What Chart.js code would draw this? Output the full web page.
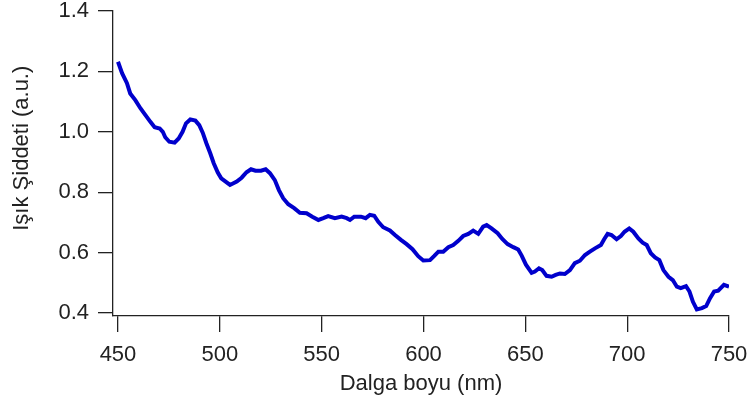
<!DOCTYPE html>
<html lang="tr">
<head>
  <meta charset="utf-8"/>
  <title>Işık Şiddeti - Dalga boyu</title>
  <script src="https://cdn.jsdelivr.net/npm/chart.js@4.4.1/dist/chart.umd.min.js"></script>
  <style>
    html, body { margin: 0; padding: 0; background: #fff; }
    #wrap { width: 752px; height: 404px; }
  </style>
</head>
<body>
  <div id="wrap"><canvas id="spektrum"></canvas></div>
  <script>
    // spektrum verisi (nm, a.u.)
    var dalgaBoyu = [
      450, 452, 454.4, 456, 458.5, 461, 463.4, 465.9, 468, 470.5,
      472, 473.2, 475.2, 477.8, 479.8, 481.7, 483.4, 485.5, 488, 489.9,
      491.6, 493.4, 495.3, 497, 499, 500.7, 505, 508.3, 510.7, 513.1,
      515.3, 517.5, 520.2, 522.5, 524.6, 527, 529, 531.1, 533.6, 536.5,
      539.3, 542.6, 545.4, 548.4, 550.8, 553.2, 556.5, 559.8, 562.3, 563.9,
      566, 569.3, 571.6, 573.7, 575.8, 577.8, 580.2, 583.5, 586, 588.9,
      591.7, 594.6, 597.4, 599.9, 603.2, 605.3, 607.3, 609.7, 612.2, 614.6,
      617.1, 619.5, 622, 624.4, 626.9, 629.3, 631, 633.4, 636.4, 638.7,
      641.3, 644.1, 646.5, 648.2, 650.3, 653.1, 654.7, 656.7, 658.3, 660.4,
      662.9, 664.9, 667, 669.4, 671.9, 674.3, 676.8, 679.3, 681.7, 684.2,
      687.1, 688.7, 690.4, 692.3, 694.8, 696.9, 698.7, 701, 703, 705.5,
      707.6, 709.6, 711.6, 713.7, 715.8, 717.8, 720.3, 722.4, 724.4, 726.3,
      728.9, 730.6, 732.3, 734.2, 736.7, 738.8, 740.7, 742.7, 744.7, 747.5,
      750
    ];
    var siddet = [
      1.232, 1.194, 1.161, 1.127, 1.105, 1.078, 1.056, 1.033, 1.015, 1.011,
      1.000, 0.982, 0.967, 0.964, 0.978, 1.000, 1.028, 1.041, 1.037, 1.022,
      0.997, 0.962, 0.929, 0.896, 0.865, 0.846, 0.824, 0.835, 0.848, 0.866,
      0.876, 0.871, 0.871, 0.876, 0.863, 0.840, 0.807, 0.780, 0.760, 0.747,
      0.732, 0.730, 0.719, 0.708, 0.714, 0.721, 0.714, 0.719, 0.714, 0.708,
      0.719, 0.719, 0.714, 0.725, 0.722, 0.702, 0.684, 0.673, 0.658, 0.642,
      0.628, 0.611, 0.588, 0.574, 0.575, 0.589, 0.603, 0.603, 0.618, 0.625,
      0.639, 0.655, 0.662, 0.673, 0.662, 0.686, 0.691, 0.680, 0.664, 0.645,
      0.628, 0.618, 0.610, 0.590, 0.560, 0.533, 0.537, 0.548, 0.542, 0.523,
      0.520, 0.526, 0.531, 0.529, 0.542, 0.565, 0.573, 0.592, 0.603, 0.614,
      0.625, 0.644, 0.662, 0.658, 0.644, 0.655, 0.669, 0.680, 0.669, 0.647,
      0.633, 0.625, 0.598, 0.584, 0.575, 0.542, 0.520, 0.509, 0.487, 0.482,
      0.489, 0.471, 0.437, 0.412, 0.416, 0.423, 0.449, 0.471, 0.474, 0.493,
      0.487
    ];
    var xTicks = [450, 500, 550, 600, 650, 700, 750];
    var yTicks = [0.4, 0.6, 0.8, 1.0, 1.2, 1.4];

    var noktalar = dalgaBoyu.map(function (x, i) { return { x: x, y: siddet[i] }; });

    var yazi = { family: '"Liberation Sans", Arial, sans-serif', size: 22 };
    var eksenRenk = '#222';

    new Chart(document.getElementById('spektrum'), {
      type: 'line',
      data: {
        datasets: [{
          data: noktalar,
          borderColor: '#0000cc',
          borderWidth: 4,
          pointRadius: 0,
          tension: 0,
          fill: false
        }]
      },
      options: {
        responsive: true,
        maintainAspectRatio: false,
        animation: false,
        layout: { padding: { top: 11, right: 23, left: 0, bottom: 0 } },
        plugins: { legend: { display: false }, tooltip: { enabled: false } },
        scales: {
          x: {
            type: 'linear',
            min: 447.55,
            max: 750,
            afterBuildTicks: function (s) { s.ticks = xTicks.map(function (v) { return { value: v }; }); },
            // eksen boyutunu sabitle, etiket taşmalarını yerleşime katma
            afterFit: function (s) { s.height = 88; s.paddingLeft = 0; s.paddingRight = 0; },
            grid: { display: true, drawOnChartArea: false, drawTicks: true, tickLength: 16, color: eksenRenk, lineWidth: 1.3 },
            border: { display: true, color: eksenRenk, width: 1.3 },
            ticks: { color: eksenRenk, font: yazi, padding: 10, maxRotation: 0 },
            title: { display: true, text: 'Dalga boyu (nm)', color: eksenRenk, font: yazi, padding: { top: 0, bottom: 7 } }
          },
          y: {
            min: 0.39,
            max: 1.4,
            afterBuildTicks: function (s) { s.ticks = yTicks.map(function (v) { return { value: v }; }); },
            afterFit: function (s) { s.width = 113; s.paddingTop = 0; s.paddingBottom = 0; },
            grid: { display: true, drawOnChartArea: false, drawTicks: true, tickLength: 15, color: eksenRenk, lineWidth: 1.3 },
            border: { display: true, color: eksenRenk, width: 1.3 },
            ticks: {
              color: eksenRenk,
              font: yazi,
              padding: 9,
              callback: function (v) { return v.toFixed(1); }
            },
            title: { display: true, text: '     Işık Şiddeti (a.u.)', color: eksenRenk, font: yazi, padding: { top: 9, bottom: 0 } }
          }
        }
      }
    });
  </script>
</body>
</html>
